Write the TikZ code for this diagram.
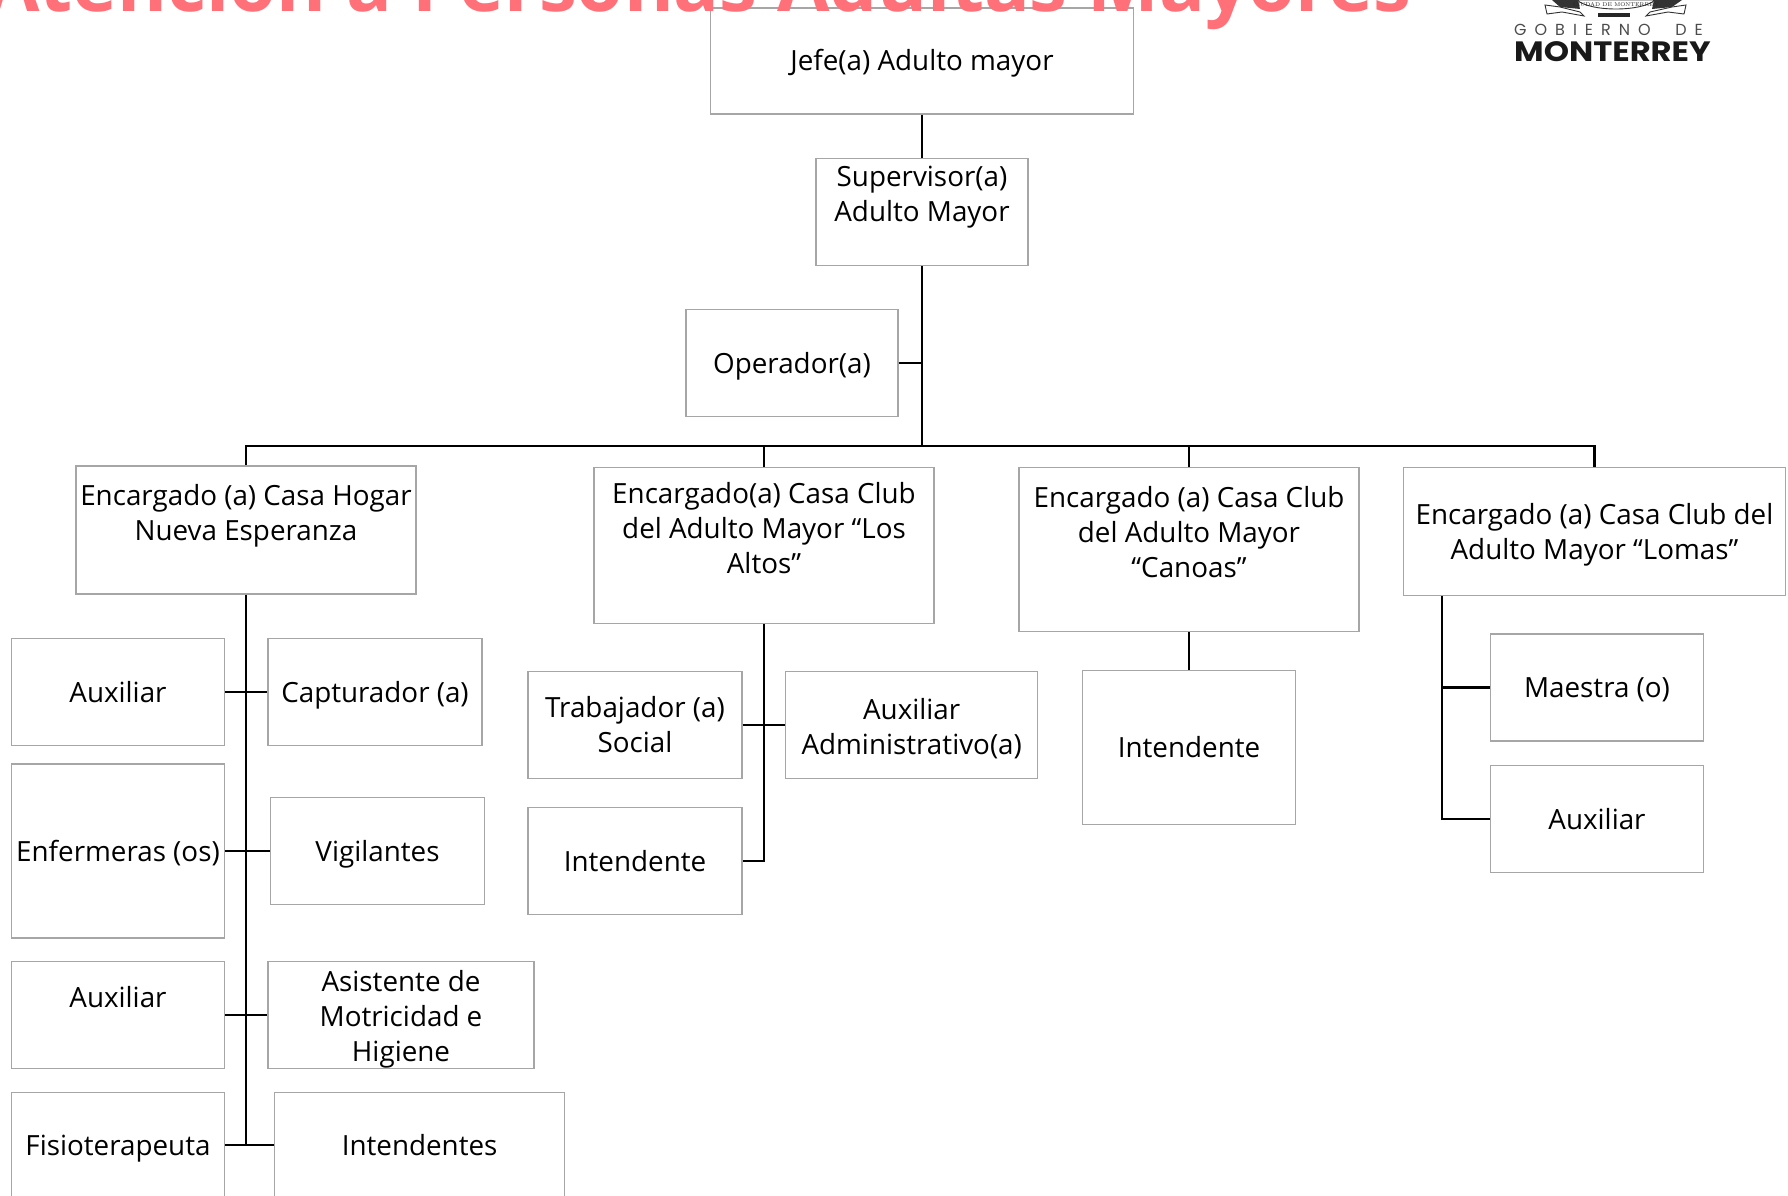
\documentclass[tikz,border=0pt]{standalone}
\usepackage{fontspec}
\usepackage{tikz}
\usetikzlibrary{calc}
\setmainfont{Open Sans}
\newfontfamily\logofont[FakeStretch=1.15]{Poppins}
\newfontfamily\logospaced[LetterSpace=50]{Poppins}
\definecolor{titlered}{HTML}{FF7078}
\definecolor{boxgray}{HTML}{A6A6A6}
\newcommand{\linerule}{\rule[-1pt]{0pt}{28.5pt}}
\tikzstyle{orgbox} = [rectangle, draw=boxgray, line width=1.3pt, fill=white, text centered, align=center, inner sep=0pt, minimum width=213pt, minimum height=107pt, font=\fontsize{27.8}{35}\selectfont]
\tikzstyle{onebox} = [orgbox, text height=21pt, text depth=1pt]
\tikzstyle{multibox} = [orgbox, execute at begin node=\linerule, execute at end node=\linerule]
\tikzstyle{connector} = [line width=2.6pt]

\begin{document}
\begin{tikzpicture}[node distance=0pt]
            \useasboundingbox (0,0) rectangle (1788pt,-1196pt);
            \clip (0,0) rectangle (1788pt,-1196pt);
            % top of the chart
            \node (jefe) [onebox, minimum width=423pt, minimum height=106pt] at (922pt,-61pt) {Jefe(a) Adulto mayor};
            \node (sup) [multibox, minimum width=212pt, below of = jefe, yshift = -151pt] {Supervisor(a)\\Adulto Mayor\\~};
            \node (oper) [onebox, minimum width=212pt, below of = sup, xshift = -130pt, yshift = -151pt] {Operador(a)};
            \coordinate (bus) at ($(sup.south)+(0,-180pt)$);
            % heading and logo
            \node (title) [anchor=base west, text=titlered, inner sep=0pt, font=\fontsize{76}{76}\selectfont\bfseries] at (-13pt,-12pt) {Atención a Personas Adultas Mayores};
            \node (gobierno) [anchor=base west, text=black!70, inner sep=0pt, font=\logospaced\fontsize{16}{16}\selectfont] at (1514pt,-36pt) {GOBIERNO\ \ DE};
            \node (monterrey) [anchor=base west, text=black!90, inner sep=0pt, font=\logofont\fontsize{28}{28}\selectfont\bfseries] at (1514pt,-62pt) {MONTERREY};
            \fill [black!80] (1552pt,0) -- (1578pt,0) -- (1580pt,-9pt) -- (1560pt,-7pt) -- cycle;
            \fill [black!80] (1682pt,0) -- (1654pt,0) -- (1652pt,-9pt) -- (1672pt,-7pt) -- cycle;
            \fill [black!85] (1598pt,-13pt) rectangle (1630pt,-17pt);
            \draw [black!80, line width=0.9pt, fill=white] (1545pt,-5pt) -- (1560pt,-7pt) -- (1580pt,-12pt) -- (1584pt,-16pt) -- (1562pt,-12pt) -- (1547pt,-14pt) -- cycle;
            \draw [black!80, line width=0.9pt, fill=white] (1686pt,-5pt) -- (1672pt,-7pt) -- (1650pt,-12pt) -- (1646pt,-16pt) -- (1668pt,-12pt) -- (1684pt,-14pt) -- cycle;
            \draw [black!80, line width=0.9pt, fill=white] (1577pt,0) .. controls (1590pt,-12pt) and (1642pt,-12pt) .. (1655pt,0) -- cycle;
            \node (crest) [inner sep=0pt, text=black!85, font=\fontfamily{lmr}\fontsize{5.5}{6}\selectfont] at (1616pt,-4.5pt) {CIUDAD DE MONTERREY};
            % the four houses
            \node (hogar) [multibox, minimum width=340pt, minimum height=128pt, left of = sup, xshift = -676pt, yshift = -318pt] {Encargado (a) Casa Hogar\\Nueva Esperanza\\~};
            \node (altos) [multibox, minimum width=340pt, minimum height=156pt, left of = sup, xshift = -158pt, yshift = -333.6pt] {Encargado(a) Casa Club\\del Adulto Mayor “Los\\Altos”\\~};
            \node (canoas) [multibox, minimum width=340pt, minimum height=164pt, right of = sup, xshift = 267pt, yshift = -337.6pt] {Encargado (a) Casa Club\\del Adulto Mayor\\“Canoas”\\~};
            \node (lomas) [multibox, minimum width=382pt, minimum height=128pt, right of = sup, xshift = 672.5pt, yshift = -319.3pt] {\rule{0pt}{29pt}Encargado (a) Casa Club del\\Adulto Mayor “Lomas”};
            % Casa Hogar
            \node (aux1) [onebox, at={(118pt,-692pt)}] {Auxiliar};
            \node (capt) [onebox, minimum width=214pt, right of = aux1, xshift = 257pt] {Capturador (a)};
            \node (enf) [onebox, minimum height=174pt, below of = aux1, yshift = -159pt] {Enfermeras (os)};
            \node (vig) [onebox, minimum width=214pt, right of = enf, xshift = 259.5pt] {Vigilantes};
            \node (aux2) [multibox, below of = enf, yshift = -164pt] {Auxiliar\\~};
            \node (asis) [multibox, minimum width=266pt, right of = aux2, xshift = 283pt] {\rule{0pt}{30pt}Asistente de\\Motricidad e\\Higiene};
            \node (fisio) [onebox, minimum height=105pt, below of = aux2, yshift = -130pt] {Fisioterapeuta};
            \node (intds) [onebox, minimum width=290pt, minimum height=105pt, right of = fisio, xshift = 301.6pt] {Intendentes};
            % Casa Club Los Altos
            \node (trab) [multibox, minimum width=214pt, at={(635pt,-725pt)}] {Trabajador (a)\\Social};
            \node (adm) [multibox, minimum width=252pt, right of = trab, xshift = 276.7pt] {\rule{0pt}{29pt}Auxiliar\\Administrativo(a)};
            \node (int2) [onebox, minimum width=214pt, below of = trab, yshift = -136pt] {Intendente};
            % Casa Club Canoas
            \node (int3) [onebox, minimum height=154pt, below of = canoas, yshift = -197.8pt] {Intendente};
            % Casa Club Lomas
            \node (maestra) [onebox, at={(1597pt,-687.6pt)}] {Maestra (o)};
            \node (aux3) [onebox, below of = maestra, yshift = -131.4pt] {Auxiliar};
            \coordinate (stem) at ($(lomas.south west)+(39pt,0)$);
            % connectors
            \draw [connector] (jefe) -- (sup);
            \draw [connector] (sup) -- (bus);
            \draw [connector] (oper.east) -- (oper.east -| sup.south);
            \draw [connector] (bus) -| (hogar.north);
            \draw [connector] (bus) -| (altos.north);
            \draw [connector] (bus) -| (canoas.north);
            \draw [connector] (bus) -| (lomas.north);
            \draw [connector] (hogar.south) -- (hogar.south |- fisio.east);
            \draw [connector] (aux1.east) -- (capt.west);
            \draw [connector] (enf.east) -- (vig.west);
            \draw [connector] (aux2.east) -- (asis.west);
            \draw [connector] (fisio.east) -- (intds.west);
            \draw [connector] (altos.south) |- (int2.east);
            \draw [connector] (trab.east) -- (adm.west);
            \draw [connector] (canoas.south) -- (int3.north -| canoas.south);
            \draw [connector] (stem) |- (aux3.west);
            \draw [connector] (stem |- maestra.west) -- (maestra.west);
\end{tikzpicture}
\end{document}
